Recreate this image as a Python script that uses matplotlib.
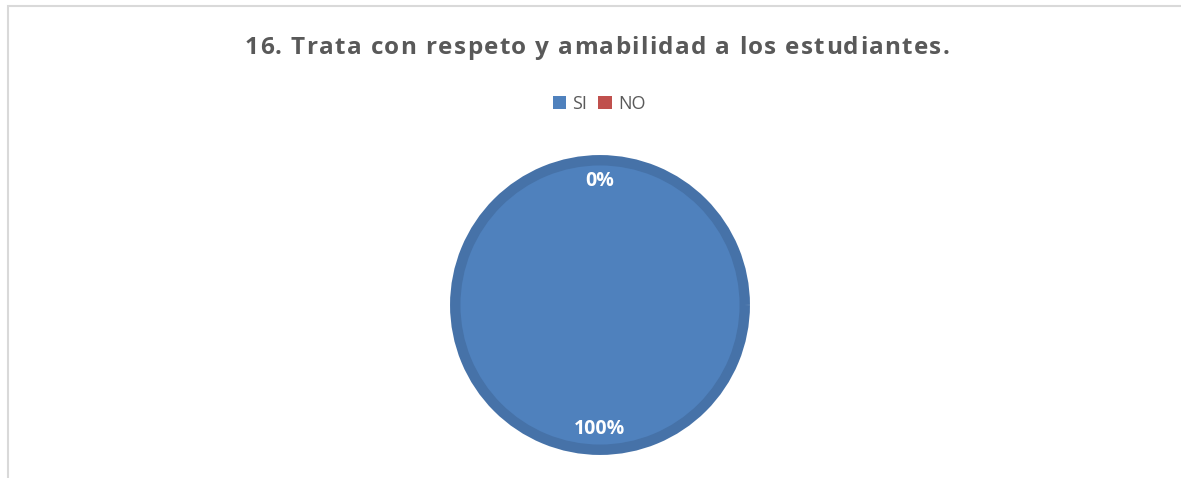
import matplotlib.pyplot as plt
from matplotlib.patches import Rectangle
from matplotlib.font_manager import FontProperties

# Survey answers for question 16
labels = ['SI', 'NO']
values = [100, 0]
colors = ['#4F81BD', '#C0504D']
title = '16. Trata con respeto y amabilidad a los estudiantes.'

W, H = 1181, 478
fig = plt.figure(figsize=(W / 100, H / 100), dpi=100)
fig.patch.set_facecolor('white')

# light gray chart-area border (top and left edges are visible)
fig.patches.append(Rectangle((8 / W, -0.2), 1.2, 1.2 - 6 / H, transform=fig.transFigure,
                             fill=False, edgecolor='#D9D9D9', linewidth=1.5))

# pie axes: center ~ (600, 305) px, outer radius ~150 px
ax = fig.add_axes([450 / W, (H - 455) / H, 300 / W, 300 / H])
wedges, texts, autotexts = ax.pie(values, colors=colors, startangle=90, counterclock=False,
                                  radius=0.965, autopct='%1.0f%%', pctdistance=0.86,
                                  wedgeprops=dict(edgecolor='#4672A8', linewidth=7.5),
                                  textprops=dict(color='white', fontsize=14, fontweight='bold',
                                                 family='Open Sans'))
# no outline on the empty slice
wedges[1].set_linewidth(0)
ax.set_xlim(-1, 1)
ax.set_ylim(-1, 1)
ax.set_aspect('auto')
ax.axis('off')

# title with extra letter spacing (spread to ~705 px wide, centred at x=597)
fp = FontProperties(family='Open Sans', weight='bold', size=17.5)
renderer = fig.canvas.get_renderer()
widths = [renderer.get_text_width_height_descent(c if c != ' ' else 'n', fp, ismath=False)[0]
          * (0.4 if c == ' ' else 1.0) for c in title]
target = 705
gap = (target - sum(widths)) / (len(title) - 1)
x = 597 - target / 2
for c, w in zip(title, widths):
    fig.text(x / W, 1 - 48 / H, c, ha='left', va='center', fontproperties=fp, color='#595959')
    x += w + gap

leg = fig.legend(wedges, labels, loc='center', bbox_to_anchor=(599 / W, 1 - 104 / H),
                 ncol=2, frameon=False, handlelength=0.75, handleheight=0.75,
                 handletextpad=0.35, columnspacing=0.6,
                 prop=dict(family='Open Sans', size=13))
for t in leg.get_texts():
    t.set_color('#595959')
for h in leg.legend_handles:
    h.set_linewidth(0)

fig.savefig('out.png', dpi=100)
